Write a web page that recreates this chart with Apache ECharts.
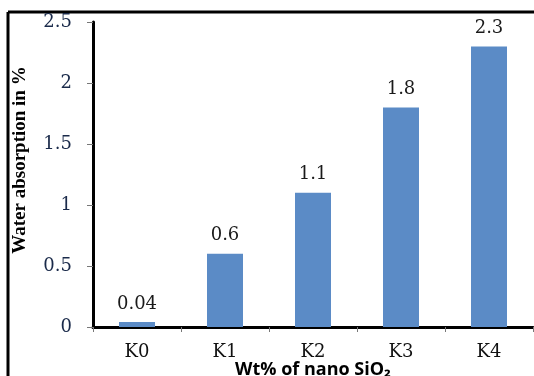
<!DOCTYPE html>
<html><head><meta charset="utf-8">
<script src="https://cdn.jsdelivr.net/npm/echarts@6/dist/echarts.min.js"></script>
<style>html,body{margin:0;padding:0;background:#fff}#c{width:534px;height:376px}</style>
</head><body><div id="c"></div>
<script>
var categories = ['K0', 'K1', 'K2', 'K3', 'K4'];
var absorption = [0.04, 0.6, 1.1, 1.8, 2.3];
var yTicks = [0, 0.5, 1, 1.5, 2, 2.5];

var chart = echarts.init(document.getElementById('c'));
chart.setOption({
  animation: false,
  backgroundColor: '#ffffff',
  grid: { left: 93, right: 1, top: 22, bottom: 49, containLabel: false, outerBoundsMode: 'none' },
  graphic: [
    { type: 'line', shape: { x1: 8, y1: 12, x2: 534, y2: 12 }, style: { stroke: '#000', lineWidth: 3 } },
    { type: 'line', shape: { x1: 8, y1: 12, x2: 8, y2: 376 }, style: { stroke: '#000', lineWidth: 3 } },
    { type: 'text', x: 313, y: 370, style: { text: 'Wt% of nano SiO₂', font: 'bold 18px "Open Sans"', fill: '#000', textAlign: 'center', textVerticalAlign: 'middle' } },
    { type: 'text', x: 20, y: 160, rotation: Math.PI / 2, style: { text: 'Water absorption in %', font: 'bold 19px "Liberation Serif"', fill: '#000', textAlign: 'center', textVerticalAlign: 'middle' } }
  ],
  xAxis: {
    type: 'category',
    data: categories,
    axisLine: { lineStyle: { color: '#000', width: 3 } },
    axisTick: { show: true, length: 5, lineStyle: { color: '#777', width: 1 } },
    axisLabel: { fontFamily: 'DejaVu Serif', fontSize: 18, color: '#111', margin: 16 }
  },
  yAxis: {
    type: 'value',
    min: yTicks[0],
    max: yTicks[yTicks.length - 1],
    interval: 0.5,
    axisLine: { show: true, lineStyle: { color: '#000', width: 3 } },
    axisTick: { show: true, length: 6, lineStyle: { color: '#777', width: 1 } },
    splitLine: { show: false },
    axisLabel: { fontFamily: 'DejaVu Serif', fontSize: 18, color: '#1a2a4a', margin: 21 }
  },
  series: [{
    type: 'bar',
    data: absorption,
    barWidth: 36,
    itemStyle: { color: '#5b8bc6' },
    label: { show: true, position: 'top', distance: 9, fontFamily: 'DejaVu Serif', fontSize: 18, color: '#1a1a1a' }
  }]
});
</script></body></html>
